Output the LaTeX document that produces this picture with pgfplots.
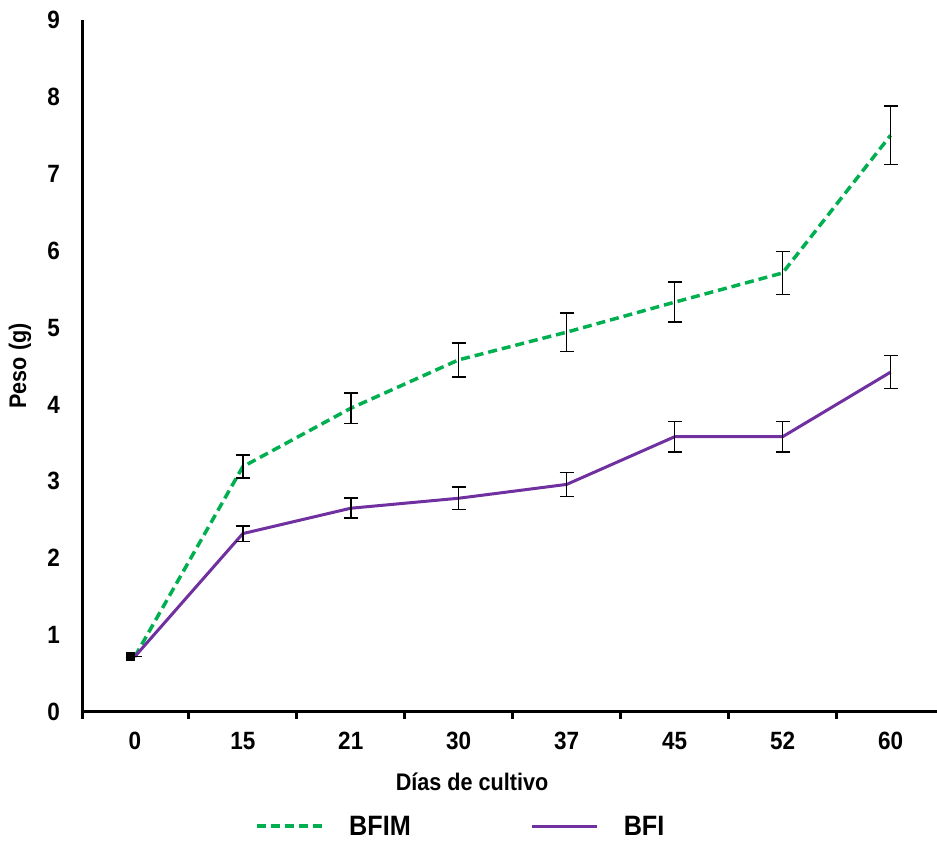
\documentclass[border=0pt]{standalone}
\usepackage{fontspec}
\setmainfont{Liberation Sans}[FakeStretch=0.9]
\usepackage{pgfplots}
\pgfplotsset{compat=1.18}
\definecolor{bfim}{RGB}{0,176,80}
\definecolor{bfi}{RGB}{112,48,160}
\begin{document}
\begin{tikzpicture}
\begin{axis}[
  name=ax,
  scale only axis,
  width=854pt, height=692pt,
  xmin=-0.48, xmax=7.43,
  ymin=0, ymax=9,
  axis x line*=bottom, axis y line*=left,
  axis line style={-, line width=3pt, black},
  xtick={0,...,7},
  xticklabels={0,15,21,30,37,45,52,60},
  minor xtick={-0.48,0.5,1.5,2.5,3.5,4.5,5.5,6.5},
  ytick={0,...,9},
  major tick length=0pt,
  minor tick length=7pt,
  tick align=outside,
  minor tick style={line width=3pt, black},
  /pgf/number format/assume math mode=true,
  ticklabel style={font=\fontsize{25}{28}\selectfont\bfseries, inner sep=0pt},
  xticklabel style={anchor=north, yshift=-20pt},
  yticklabel style={anchor=east, xshift=-23pt},
  xlabel={Días de cultivo},
  ylabel={Peso (g)},
  label style={font=\fontsize{24}{28}\selectfont\bfseries},
  xlabel style={at={(axis description cs:0.4555,-0.101)}, anchor=center},
  ylabel style={at={(axis description cs:-0.0738,0.5)}, anchor=center},
  legend style={at={(axis description cs:0.4415,-0.165)}, anchor=center,
    draw=none, fill=none, legend columns=2,
    font=\fontsize{28}{30}\selectfont\bfseries,
    nodes={inner sep=0pt},
    /tikz/every odd column/.append style={column sep=25pt},
    /tikz/every even column/.append style={column sep=120pt}},
  legend image code/.code={\draw[#1] (0pt,0pt) -- (65pt,0pt);},
  clip=false,
]
\addplot[bfim, line width=3.5pt, dash pattern=on 9pt off 5pt,
  error bars/.cd, y dir=both, y explicit,
  error bar style={black, line width=1.5pt, solid},
  error mark options={rotate=90, mark size=7pt, black, line width=1.5pt, solid}]
  coordinates {
  (0,0.72) +- (0,0)
  (1,3.19) +- (0,0.15)
  (2,3.95) +- (0,0.20)
  (3,4.58) +- (0,0.22)
  (4,4.94) +- (0,0.25)
  (5,5.33) +- (0,0.26)
  (6,5.71) +- (0,0.28)
  (7,7.50) +- (0,0.38)
  };
\addlegendentry{BFIM}
\addplot[bfi, line width=3pt,
  error bars/.cd, y dir=both, y explicit,
  error bar style={black, line width=1.5pt},
  error mark options={rotate=90, mark size=7pt, black, line width=1.5pt}]
  coordinates {
  (0,0.72) +- (0,0)
  (1,2.32) +- (0,0.10)
  (2,2.65) +- (0,0.13)
  (3,2.78) +- (0,0.145)
  (4,2.96) +- (0,0.155)
  (5,3.58) +- (0,0.20)
  (6,3.58) +- (0,0.20)
  (7,4.42) +- (0,0.215)
  };
\addlegendentry{BFI}
\addplot[only marks, mark=square*, mark size=4pt, black, forget plot]
  coordinates {(-0.04,0.72)};
\end{axis}
\pgfresetboundingbox
\path ([shift={(-83pt,-132pt)}]ax.south west) rectangle ([shift={(0pt,20pt)}]ax.north east);
\end{tikzpicture}
\end{document}
